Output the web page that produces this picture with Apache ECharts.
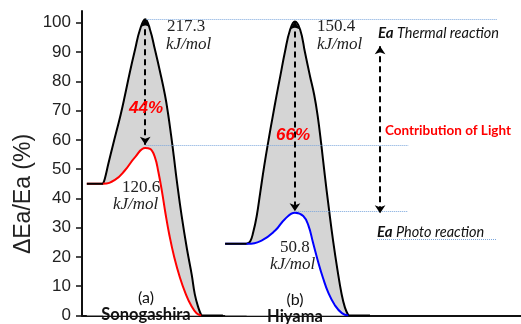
<!DOCTYPE html>
<html>
<head>
<meta charset="utf-8">
<script src="https://cdn.jsdelivr.net/npm/echarts@6/dist/echarts.min.js"></script>
<style>
html, body { margin: 0; padding: 0; background: #fff; }
#main { width: 521px; height: 324px; }
</style>
</head>
<body>
<div id="main"></div>
<script>
// x = reaction coordinate (0-100), y = relative Ea (%)
var yMin = 0, yMax = 104, yStep = 10;

var sonoBaseLeft = [[1.1, 45], [4.8, 45]];
var sonoBaseRight = [[27.2, 0], [32.1, 0]];
var sonoThermal = [[4.8, 45], [5.2, 46.7], [6.0, 51.8], [7.1, 58.5], [8.8, 68.6], [9.8, 75.3], [10.9, 83.1],
  [12.1, 90.9], [13.2, 97.6], [14.4, 101.2], [15.5, 97.6], [16.6, 90.9], [17.8, 83.1], [18.9, 75.3],
  [19.6, 69.0], [20.3, 61.5], [20.9, 54.5], [21.6, 46.0], [22.7, 34.0], [23.9, 22.8], [25.0, 13.9],
  [25.7, 7.2], [26.5, 2.7], [27.2, 0]];
var sonoPhoto = [[4.8, 45], [7.5, 46.3], [9.8, 49.6], [12.1, 54.1], [14.4, 57.2], [15.5, 56.9], [16.6, 54.1],
  [17.4, 49.0], [18.2, 42.5], [19.0, 35.0], [19.9, 27.5], [21.0, 20.0], [22.3, 13.0], [23.6, 7.5],
  [24.9, 3.3], [26.1, 0.8], [27.2, 0]];

var hiyamaBaseLeft = [[32.6, 24.5], [37.5, 24.5]];
var hiyamaBaseRight = [[60.7, 0], [65.6, 0]];
var hiyamaThermal = [[37.5, 24.5], [38.3, 25.3], [39.0, 28.4], [39.8, 34.0], [40.6, 42.0], [41.5, 51.0],
  [42.5, 60.0], [43.4, 67.6], [44.3, 75.0], [45.2, 82.0], [46.2, 89.8], [47.4, 97.6], [48.5, 100.4],
  [49.7, 97.6], [50.8, 89.8], [51.9, 82.0], [52.9, 75.3], [53.7, 68.0], [54.5, 58.5], [55.3, 48.0],
  [56.2, 37.0], [57.2, 25.5], [58.2, 15.5], [59.1, 7.6], [59.9, 2.7], [60.7, 0]];
var hiyamaPhoto = [[37.5, 24.5], [40.9, 25.6], [44.0, 29.0], [46.2, 32.9], [48.5, 35.1], [50.4, 34.0],
  [51.6, 30.6], [52.6, 25.0], [53.7, 18.8], [54.9, 12.8], [56.1, 7.8], [57.6, 3.5], [59.2, 0.8], [60.7, 0]];

// dotted guide levels: [y, xFrom, xTo]
var guideLevels = [[101.2, 14.5, 94.5], [58.3, 14.5, 74.3], [35.6, 48.8, 74.3], [26.2, 67.2, 94.5]];
// dashed double arrows: [x, yTop, yBottom]
var arrows = [[14.4, 101.2, 58.3], [48.5, 100.4, 35.6], [67.9, 92.0, 34.9]];

var chart = echarts.init(document.getElementById('main'));

function baseLine(data) {
  return {
    type: 'line', data: data, symbol: 'none', silent: true, z: 4,
    lineStyle: { color: '#000', width: 2 }
  };
}

var guideLines = guideLevels.map(function (g) {
  return [{ coord: [g[1], g[0]] }, { coord: [g[2], g[0]] }];
});
var arrowLines = arrows.map(function (a) {
  return [{ coord: [a[0], a[1]] }, { coord: [a[0], a[2]] }];
});

var serif = '"Liberation Serif", serif';
var sans = '"Liberation Sans", Arial, sans-serif';
var label = 'Lato, sans-serif';

function txt(x, y, text, font, fill, align, extra) {
  var style = { text: text, font: font, fill: fill, textAlign: align || 'left', textVerticalAlign: 'middle' };
  if (extra) style.rich = extra;
  return { type: 'text', x: x, y: y, z: 100, style: style };
}
var eaRich = { b: { fontWeight: 'bold', fontStyle: 'italic', fontSize: 15, fontFamily: label, fill: '#111' } };

option = {
  animation: false,
  grid: { left: 82, right: 0, top: 11, bottom: 2.5 },
  xAxis: {
    type: 'value', min: 0, max: 100, position: 'top',
    axisLine: { show: true, lineStyle: { color: '#111', width: 2 } },
    axisTick: { show: false }, axisLabel: { show: false }, splitLine: { show: false }
  },
  yAxis: {
    type: 'value', min: yMin, max: yMax, interval: yStep,
    axisLine: { show: true, lineStyle: { color: '#111', width: 2 } },
    axisTick: { show: true, length: 6, lineStyle: { color: '#111', width: 1.5 } },
    axisLabel: {
      showMaxLabel: false, margin: 11, fontSize: 17, fontFamily: sans, color: '#222',
      formatter: function (v) { return v % yStep === 0 ? v : ''; }
    },
    splitLine: { show: false }
  },
  series: [
    {
      type: 'line', data: sonoThermal, symbol: 'none', smooth: 0.45, silent: true,
      lineStyle: { color: '#000', width: 2 },
      areaStyle: { color: '#d5d5d5', opacity: 1 }
    },
    {
      // white fill under the photo curve hides the grey below it
      type: 'line', data: sonoBaseLeft.concat(sonoPhoto.slice(1)), symbol: 'none', smooth: 0.45, silent: true,
      lineStyle: { color: '#ff0000', width: 2 },
      areaStyle: { color: '#ffffff', opacity: 1 }
    },
    {
      type: 'line', data: hiyamaThermal, symbol: 'none', smooth: 0.45, silent: true,
      lineStyle: { color: '#000', width: 2 },
      areaStyle: { color: '#d5d5d5', opacity: 1 }
    },
    {
      type: 'line', data: hiyamaBaseLeft.concat(hiyamaPhoto.slice(1)), symbol: 'none', smooth: 0.45, silent: true,
      lineStyle: { color: '#0000ff', width: 2 },
      areaStyle: { color: '#ffffff', opacity: 1 }
    },
    baseLine(sonoBaseRight),
    baseLine(hiyamaBaseLeft),
    baseLine(hiyamaBaseRight),
    Object.assign(baseLine(sonoBaseLeft), {
      markLine: {
        silent: true, symbol: 'none', label: { show: false },
        lineStyle: { color: '#7aa6dc', width: 1, type: 'dotted' },
        data: guideLines
      }
    }),
    {
      type: 'line', data: [], symbol: 'none', silent: true,
      markLine: {
        silent: true, symbol: ['arrow', 'arrow'], symbolSize: 8, label: { show: false },
        lineStyle: { color: '#000', width: 2, type: [6, 4] },
        data: arrowLines
      }
    }
  ],
  graphic: [
    { type: 'text', x: 24, y: 194, z: 100, rotation: Math.PI / 2,
      style: { text: 'ΔEa/Ea (%)', font: '23px ' + sans, fill: '#222', textAlign: 'center', textVerticalAlign: 'middle' } },

    txt(167, 27, '217.3', '17px ' + serif, '#222'),
    txt(166, 45, 'kJ/mol', 'italic 17px ' + serif, '#222'),
    txt(146, 108, '44%', 'italic bold 17px ' + sans, '#ff0000', 'center'),
    txt(122, 188, '120.6', '17px ' + serif, '#222'),
    txt(113, 205, 'kJ/mol', 'italic 17px ' + serif, '#222'),
    txt(146, 298, '(a)', '16px ' + label, '#111', 'center'),
    txt(146, 315, 'Sonogashira', 'bold 16.5px ' + label, '#111', 'center'),

    txt(317, 27, '150.4', '17px ' + serif, '#222'),
    txt(317, 45, 'kJ/mol', 'italic 17px ' + serif, '#222'),
    txt(293, 135, '66%', 'italic bold 17px ' + sans, '#ff0000', 'center'),
    txt(280, 248, '50.8', '17px ' + serif, '#222'),
    txt(270, 265, 'kJ/mol', 'italic 17px ' + serif, '#222'),
    txt(295, 300, '(b)', '16px ' + label, '#111', 'center'),
    txt(295, 317, 'Hiyama', 'bold 16.5px ' + label, '#111', 'center'),

    txt(378, 33, '{b|Ea} Thermal reaction', 'italic 14.5px ' + label, '#111', 'left', eaRich),
    txt(385, 131, 'Contribution of Light', 'bold 13.5px ' + label, '#ff0000'),
    txt(377, 232, '{b|Ea} Photo reaction', 'italic 14.5px ' + label, '#111', 'left', eaRich)
  ]
};

option && chart.setOption(option);
</script>
</body>
</html>
